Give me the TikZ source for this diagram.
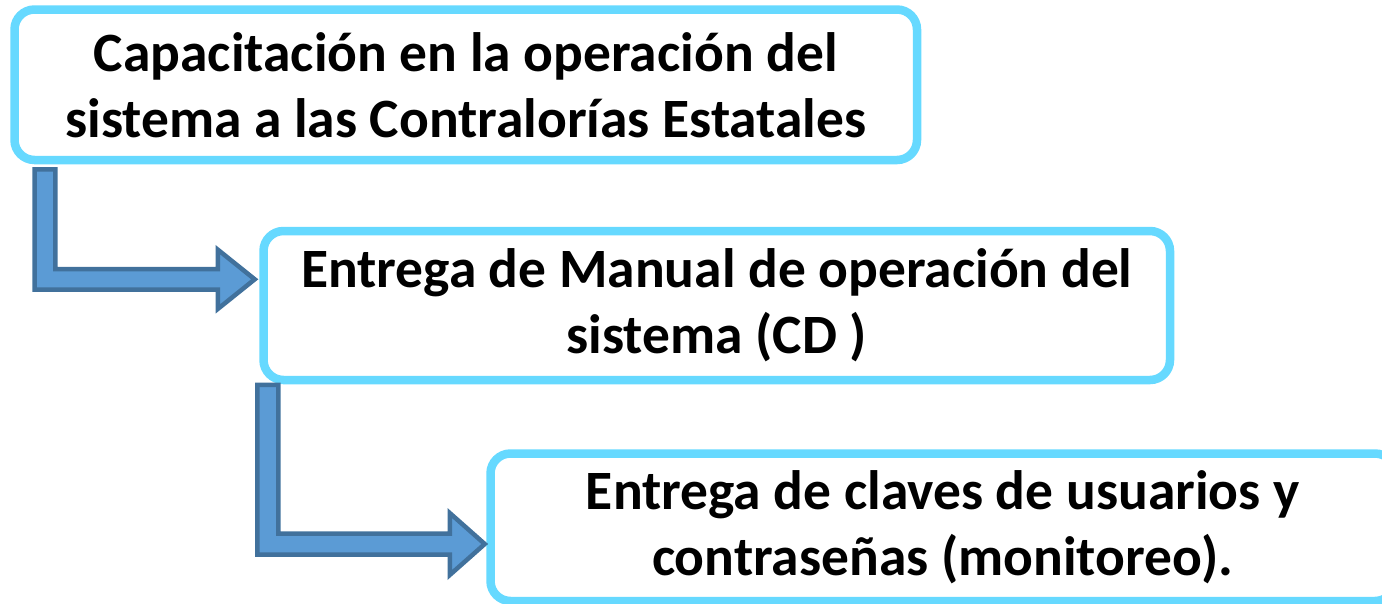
\documentclass[tikz,border=0pt]{standalone}
\usepackage{fontspec}
\setmainfont{Carlito}
\usetikzlibrary{calc}
\definecolor{boxblue}{HTML}{66D9FF}
\definecolor{arrfill}{HTML}{5B9BD5}
\definecolor{arrline}{HTML}{41719C}
\tikzset{
  stepbox/.style={draw=boxblue, line width=8.5pt, rounded corners=20pt, fill=white,
    align=center, inner sep=0pt, font=\bfseries\fontsize{55.5}{66}\selectfont},
  blockarrow/.style={draw=arrline, fill=arrfill, line width=4.5pt}
}
\begin{document}
\begin{tikzpicture}[x=1pt,y=-1pt]
\useasboundingbox (0,0) rectangle (1382,603);
\clip (0,0) rectangle (1382,603);
\node[stepbox, minimum width=902.5pt, minimum height=150.5pt] (b1) at (465.75,84.75)
  {Capacitación en la operación del\\sistema a las Contralorías Estatales};
\node[stepbox, minimum width=906.5pt, minimum height=149pt] (b2) at (716.75,305.5)
  {Entrega de Manual de operación del\\sistema (CD )};
\node[stepbox, minimum width=904.5pt, minimum height=147.5pt] (b3) at (942.75,527.25)
  {Entrega de claves de usuarios y\\contraseñas (monitoreo).};
\coordinate (a1top) at ($(b1.south west)+(34.7,5)$);
\coordinate (a1tip) at ($(b2.west)+(-4.5,-26.2)$);
\coordinate (a2top) at ($(b2.south west)+(8.7,0.5)$);
\coordinate (a2tip) at ($(b3.west)+(-1.5,16.75)$);
\draw[blockarrow] let \p1=(a1top), \p2=(a1tip) in
  (\x1-10.3pt,\y1) -- (\x1+10.3pt,\y1) -- (\x1+10.3pt,\y2+10.3pt) -- (\x2-37pt,\y2+10.3pt)
  -- (\x2-37pt,\y2+29.7pt) -- (\p2) -- (\x2-37pt,\y2-29.7pt) -- (\x2-37pt,\y2-10.3pt)
  -- (\x1-10.3pt,\y2-10.3pt) -- cycle;
\draw[blockarrow] let \p1=(a2top), \p2=(a2tip) in
  (\x1-10.5pt,\y1) -- (\x1+10.5pt,\y1) -- (\x1+10.5pt,\y2+10.5pt) -- (\x2-35pt,\y2+10.5pt)
  -- (\x2-35pt,\y2+31pt) -- (\p2) -- (\x2-35pt,\y2-31pt) -- (\x2-35pt,\y2-10.5pt)
  -- (\x1-10.5pt,\y2-10.5pt) -- cycle;
\end{tikzpicture}
\end{document}
